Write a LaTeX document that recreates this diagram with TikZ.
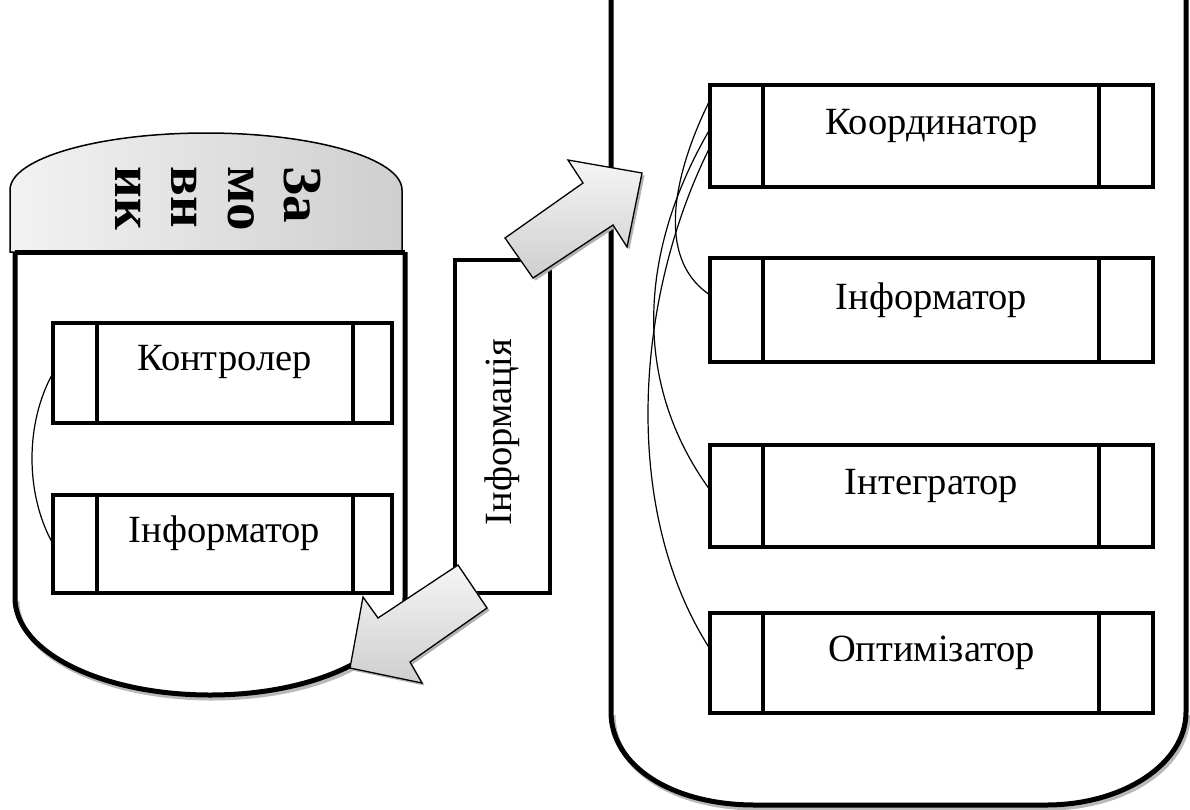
\documentclass[tikz,border=0pt]{standalone}
\usepackage{fontspec}
\setmainfont{Liberation Serif}
\usetikzlibrary{shadows}
\begin{document}
\begin{tikzpicture}[x=1pt,y=-1pt,
  wbox/.style={draw, line width=4.5pt, inner sep=0pt, outer sep=0pt},
  lbl/.style={font=\fontsize{38.5}{44}\selectfont, inner sep=0pt},
  cont/.style={line width=5pt},
  shd/.style={line width=5pt, draw=gray!55},
  divider/.style={line width=4.5pt},
  link/.style={line width=1.2pt},
  blockarrow/.style={draw=black, line width=1.3pt, top color=gray!8, bottom color=gray!38,
    drop shadow={shadow xshift=2.5pt, shadow yshift=-2.5pt, fill=gray!60, opacity=1}}
]
\useasboundingbox (0,0) rectangle (1190,809);

% ---- right container ----
\draw[shd, shift={(2,3)}] (611,712) .. controls (611,766) and (672,805) .. (755,805) -- (1046,805) .. controls (1123,805) and (1186,764) .. (1186,712);
\draw[cont] (611,0) -- (611,712) .. controls (611,766) and (672,805) .. (755,805) -- (1046,805) .. controls (1123,805) and (1186,764) .. (1186,712) -- (1186,0);

% ---- left container ----
\draw[shd, shift={(2,3)}] (15,598) .. controls (15,652) and (102,695) .. (210,695) .. controls (318,695) and (405,652) .. (405,598);
\draw[cont] (15,252) -- (15,598) .. controls (15,652) and (102,695) .. (210,695) .. controls (318,695) and (405,652) .. (405,598) -- (405,252);
\path[draw=black, line width=1.5pt, left color=gray!10, right color=gray!38]
  (10,252) -- (10,190) .. controls (10,158.5) and (98,133) .. (206,133) .. controls (314,133) and (402,158.5) .. (402,190) -- (402,252) -- cycle;
\draw[cont] (15,252) -- (405,252);
\node[font=\fontsize{55}{56.5}\selectfont\bfseries, rotate=-90, align=left, inner sep=0pt] (zam) at (218,199) {За\\мо\\вн\\ик};

% ---- left boxes ----
\node[wbox, minimum width=339pt, minimum height=100pt] (k1) at (222.5,373) {};
\node[wbox, minimum width=339pt, minimum height=98pt] (k2) at (222.5,544) {};
\foreach \b in {k1,k2}{
  \draw[divider] ([xshift=44pt]\b.north west) -- ([xshift=44pt]\b.south west);
  \draw[divider] ([xshift=-39pt]\b.north east) -- ([xshift=-39pt]\b.south east);
}
\node[lbl] (k1t) at ([xshift=2pt,yshift=11pt]k1.center) {Контролер};
\node[lbl] (k2t) at ([xshift=2pt,yshift=11pt]k2.center) {Інформатор};
\draw[link] (k1.west) .. controls +(-28,50) and +(-28,-50) .. (k2.west);

% ---- right boxes ----
\node[wbox, minimum width=443pt, minimum height=102pt] (r1) at (931.5,136) {};
\node[wbox, minimum width=443pt, minimum height=104pt] (r2) at (931.5,310) {};
\node[wbox, minimum width=443pt, minimum height=102pt] (r3) at (931.5,496) {};
\node[wbox, minimum width=443pt, minimum height=100pt] (r4) at (931.5,663) {};
\foreach \b in {r1,r2,r3,r4}{
  \draw[divider] ([xshift=53pt]\b.north west) -- ([xshift=53pt]\b.south west);
  \draw[divider] ([xshift=-54pt]\b.north east) -- ([xshift=-54pt]\b.south east);
}
\node[lbl] (r1t) at ([yshift=10pt]r1.center) {Координатор};
\node[lbl] (r2t) at ([yshift=10pt]r2.center) {Інформатор};
\node[lbl] (r3t) at ([yshift=10pt]r3.center) {Інтегратор};
\node[lbl] (r4t) at ([yshift=10pt]r4.center) {Оптимізатор};

\coordinate (s1) at ([yshift=36pt]r1.west);
\coordinate (s2) at ([yshift=7pt]r1.west);
\coordinate (s3) at ([yshift=-11pt]r1.west);
\coordinate (e2) at ([yshift=15pt]r2.west);
\coordinate (e3) at ([yshift=6pt]r3.west);
\coordinate (e4) at ([yshift=14pt]r4.west);
\draw[link] (s1) .. controls +(-30,60) and +(-60,-40) .. (e2);
\draw[link] (s2) .. controls +(-70,120) and +(-80,-110) .. (e3);
\draw[link] (s3) .. controls +(-75,150) and +(-90,-140) .. (e4);

% ---- information box ----
\node[wbox, line width=4pt, minimum width=95pt, minimum height=333pt] (inf) at (502.5,426.5) {};
\node[lbl, rotate=90] (inft) at (502,432) {Інформація};

% ---- block arrows ----
\path[blockarrow] (505,238) -- (583,183) -- (568,160) -- (642,173) -- (627,247) -- (613,225) -- (533,278) -- cycle;
\path[blockarrow] (458,565) -- (378,618) -- (363,597) -- (350,668) -- (422,683) -- (410,662) -- (487,608) -- cycle;
\end{tikzpicture}
\end{document}
